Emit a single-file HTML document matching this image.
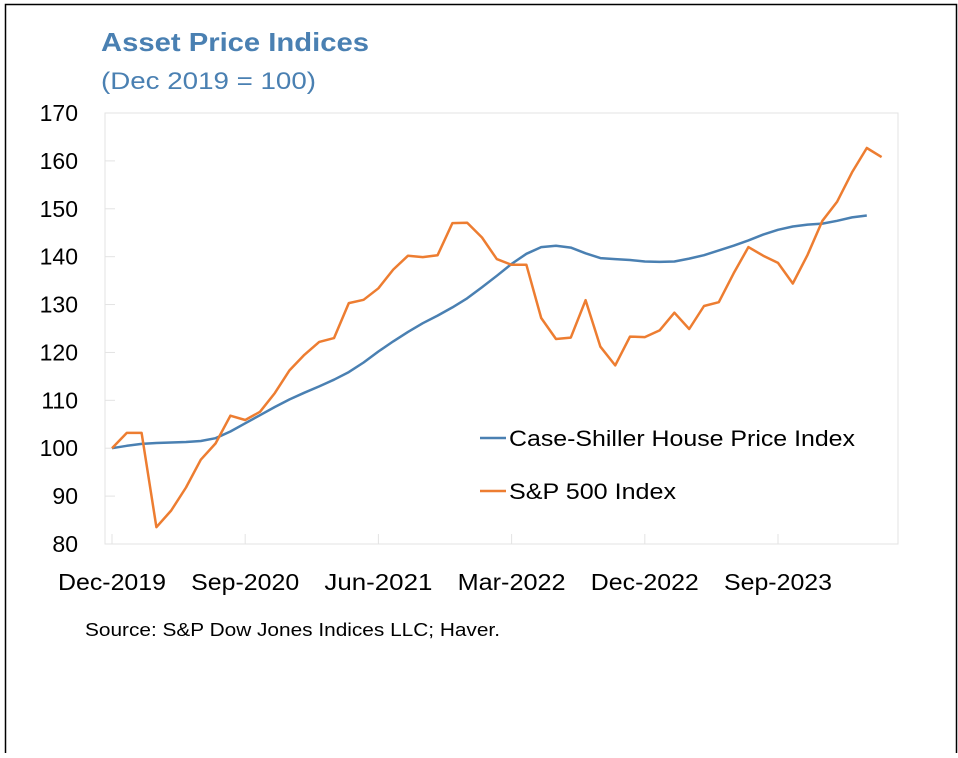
<!DOCTYPE html>
<html><head><meta charset="utf-8"><style>
body{margin:0;background:#fff;font-family:"Liberation Sans",sans-serif}
svg text{font-family:"Liberation Sans",sans-serif}
</style></head><body>
<svg width="958" height="753" xmlns="http://www.w3.org/2000/svg">
<path d="M5.5 753 V4.5 H956.5 V753" fill="none" stroke="#000" stroke-width="1.5"/>
<text x="101" y="51" font-size="26" font-weight="bold" fill="#4a80b2" textLength="268" lengthAdjust="spacingAndGlyphs">Asset Price Indices</text>
<text x="101" y="89" font-size="24" fill="#4a80b2" textLength="215" lengthAdjust="spacingAndGlyphs">(Dec 2019 = 100)</text>
<rect x="105" y="113" width="793" height="431" fill="none" stroke="#e3e3e3"/>
<g id="axes"></g>
<path id="hp" fill="none" stroke="#4a80b2" stroke-width="2.5" stroke-linejoin="round"/>
<path id="sp" fill="none" stroke="#ed7d31" stroke-width="2.5" stroke-linejoin="round"/>
<g>
<line x1="480" y1="438" x2="506" y2="438" stroke="#4a80b2" stroke-width="2.5"/>
<text x="509" y="446" font-size="22" fill="#000" textLength="346" lengthAdjust="spacingAndGlyphs">Case-Shiller House Price Index</text>
<line x1="480" y1="491" x2="506" y2="491" stroke="#ed7d31" stroke-width="2.5"/>
<text x="509" y="499" font-size="22" fill="#000" textLength="167" lengthAdjust="spacingAndGlyphs">S&amp;P 500 Index</text>
</g>
<text x="85" y="636" font-size="18" fill="#000" textLength="415" lengthAdjust="spacingAndGlyphs">Source: S&amp;P Dow Jones Indices LLC; Haver.</text>
</svg>
<script>
const yTicks=[80,90,100,110,120,130,140,150,160,170];
const xTickLabels=["Dec-2019","Sep-2020","Jun-2021","Mar-2022","Dec-2022","Sep-2023"];
const xTickIdx=[0,9,18,27,36,45];
const housePrice=[100,100.5,100.9,101.1,101.2,101.3,101.5,102.1,103.5,105.2,106.9,108.6,110.2,111.6,112.9,114.3,115.9,117.9,120.2,122.3,124.3,126.1,127.7,129.4,131.3,133.6,136,138.5,140.6,142,142.3,141.9,140.7,139.7,139.5,139.3,139,138.9,139,139.6,140.3,141.3,142.3,143.4,144.6,145.6,146.3,146.7,146.9,147.5,148.2,148.6];
const sp500=[100,103.2,103.2,83.5,87,91.8,97.6,101,106.8,105.9,107.6,111.5,116.3,119.5,122.2,123,130.3,131,133.4,137.3,140.2,139.9,140.3,147,147.1,144,139.5,138.3,138.3,127.2,122.8,123.1,130.9,121.2,117.3,123.3,123.2,124.6,128.3,124.9,129.7,130.5,136.5,142,140.2,138.7,134.4,140.4,147.5,151.5,157.6,162.7,160.8];
const X=i=>112+i*14.8, Y=v=>544-(v-80)*431/90;
const ns="http://www.w3.org/2000/svg", ax=document.getElementById('axes');
yTicks.forEach(v=>{
 const l=document.createElementNS(ns,'line');
 l.setAttribute('x1',105);l.setAttribute('x2',115);l.setAttribute('y1',Y(v));l.setAttribute('y2',Y(v));l.setAttribute('stroke','#e3e3e3');
 
 
 ax.appendChild(l);
 const t=document.createElementNS(ns,'text');
 t.setAttribute('x',78);t.setAttribute('y',Y(v)+8);t.setAttribute('text-anchor','end');t.setAttribute('font-size','23');t.textContent=v;
 
 
 ax.appendChild(t);
});
xTickIdx.forEach((i,k)=>{
 const l=document.createElementNS(ns,'line');
 l.setAttribute('x1',X(i));l.setAttribute('x2',X(i));l.setAttribute('y1',534);l.setAttribute('y2',544);l.setAttribute('stroke','#e3e3e3');
 
 
 ax.appendChild(l);
 const t=document.createElementNS(ns,'text');
 t.setAttribute('x',X(i));t.setAttribute('y',590);t.setAttribute('text-anchor','middle');t.setAttribute('font-size','23');
 t.setAttribute('textLength',108);t.setAttribute('lengthAdjust','spacingAndGlyphs');
 t.textContent=xTickLabels[k];
 
 
 ax.appendChild(t);
});
const path=a=>a.map((v,i)=>(i?'L':'M')+X(i).toFixed(1)+' '+Y(v).toFixed(1)).join(' ');
document.getElementById('hp').setAttribute('d',path(housePrice));
document.getElementById('sp').setAttribute('d',path(sp500));
</script>
</body></html>
